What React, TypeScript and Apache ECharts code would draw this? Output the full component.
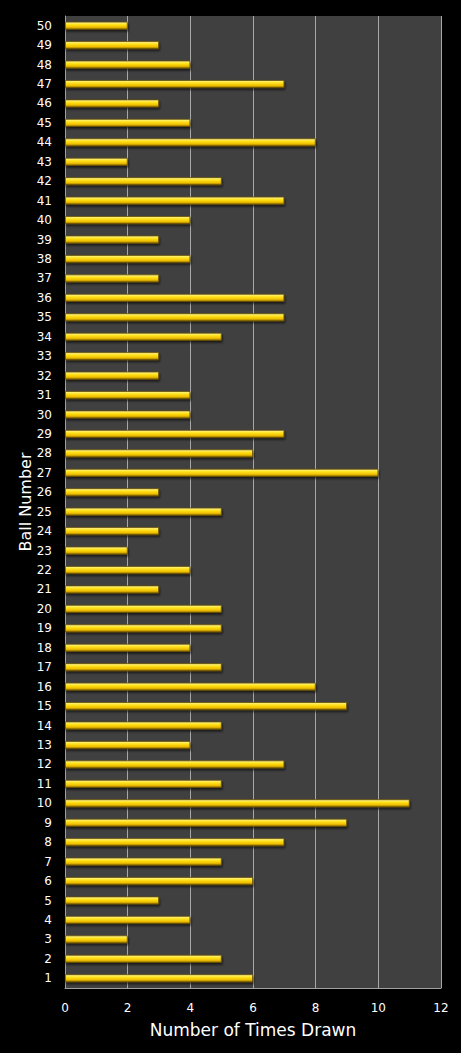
import React, { useRef, useEffect } from 'react';
import * as echarts from 'echarts';

const balls: string[] = Array.from({ length: 50 }, (_, i) => String(i + 1));
const timesDrawn: number[] = [
  6, 5, 2, 4, 3, 6, 5, 7, 9, 11,
  5, 7, 4, 5, 9, 8, 5, 4, 5, 5,
  3, 4, 2, 3, 5, 3, 10, 6, 7, 4,
  4, 3, 3, 5, 7, 7, 3, 4, 3, 4,
  7, 5, 2, 8, 4, 3, 7, 4, 3, 2,
];

const FONT = '"DejaVu Sans", Verdana, sans-serif';

const App: React.FC = () => {
  const chartRef = useRef<HTMLDivElement>(null);

  useEffect(() => {
    document.body.style.margin = '0';
    document.body.style.background = '#000';
    let chart: echarts.ECharts | null = null;
    if (chartRef.current) {
      chart = echarts.init(chartRef.current, undefined, { renderer: 'svg' });
      const option: any = {
        animation: false,
        backgroundColor: '#000000',
        grid: {
          left: 65,
          right: 20,
          top: 16,
          bottom: 65,
          show: true,
          backgroundColor: '#404040',
          borderWidth: 0,
        },
        xAxis: {
          type: 'value',
          min: 0,
          max: 12,
          interval: 2,
          name: 'Number of Times Drawn',
          nameLocation: 'middle',
          nameGap: 33,
          nameMoveOverlap: false,
          nameTextStyle: { color: '#ffffff', fontSize: 17, fontFamily: FONT },
          axisLine: { show: true, lineStyle: { color: '#a0a0a0', width: 1 } },
          axisTick: { show: false },
          axisLabel: { color: '#ffffff', fontSize: 12, fontFamily: FONT, margin: 14 },
          splitLine: { show: true, lineStyle: { color: '#a8a8a8', width: 1 } },
        },
        yAxis: {
          type: 'category',
          data: balls,
          name: 'Ball Number',
          nameLocation: 'middle',
          nameGap: 32,
          nameMoveOverlap: false,
          nameRotate: 90,
          nameTextStyle: { color: '#ffffff', fontSize: 16, fontFamily: FONT },
          axisLine: { show: true, lineStyle: { color: '#a0a0a0', width: 1 } },
          axisTick: { show: false },
          axisLabel: { color: '#ffffff', fontSize: 12, fontFamily: FONT, margin: 13, interval: 0 },
          splitLine: { show: false },
        },
        series: [
          {
            type: 'bar',
            data: timesDrawn,
            barWidth: 8,
            itemStyle: {
              color: new echarts.graphic.LinearGradient(0, 0, 0, 1, [
                { offset: 0, color: '#fff6a0' },
                { offset: 0.35, color: '#ffe21a' },
                { offset: 0.7, color: '#f0c000' },
                { offset: 1, color: '#8a6a00' },
              ]),
              borderColor: '#6a5200',
              borderWidth: 0.8,
              shadowColor: 'rgba(0,0,0,0.6)',
              shadowOffsetY: 2,
              shadowOffsetX: 1,
              shadowBlur: 2,
            },
          },
        ],
      };
      chart.setOption(option);
    }
    return () => {
      if (chart) chart.dispose();
    };
  }, []);

  return <div ref={chartRef} style={{ width: '461px', height: '1053px' }} />;
};

export default App;
